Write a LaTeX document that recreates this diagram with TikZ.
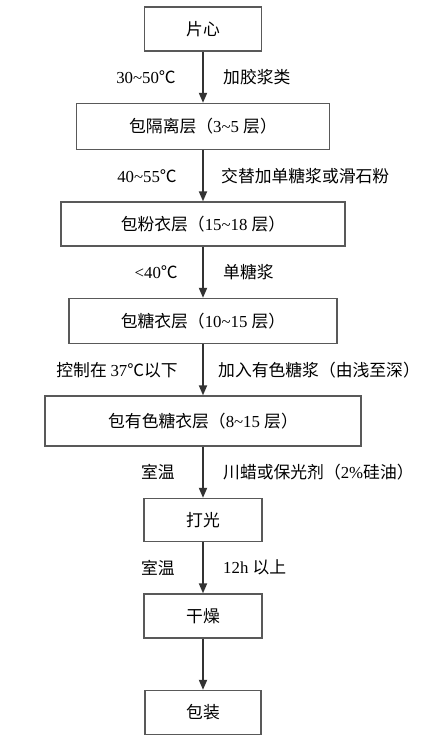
\documentclass[tikz,border=0pt]{standalone}
\usepackage{fontspec}
\setmainfont{Noto Sans CJK SC}
\newfontfamily\latin{Liberation Serif}
\usepackage{tikz}
\usetikzlibrary{positioning,arrows.meta}
\newcommand{\tnr}[1]{{\latin #1}}
\newcommand{\tl}{\textasciitilde}

\tikzset{
  stage/.style={draw=black!65, line width=1.3pt, minimum height=44pt, inner sep=0pt},
  flow/.style={draw=black!80, line width=1.8pt, -{Triangle[length=10pt,width=8pt]}},
}

\begin{document}
\begin{tikzpicture}[font=\fontsize{16.8pt}{20pt}\selectfont, node distance=51.2pt]
		\useasboundingbox (0pt,0pt) rectangle (443pt,-739pt);
		\node [stage, minimum width=117pt] (core) at (203pt,-29pt) {片心};
		\node [stage, minimum width=253pt, minimum height=46pt, below=of core] (iso) {包隔离层（\tnr{3\tl5 }层）};
		\node [stage, minimum width=284pt, below=of iso] (powder) {包粉衣层（\tnr{15\tl18 }层）};
		\node [stage, minimum width=268pt, minimum height=45pt, below=of powder] (sugar) {包糖衣层（\tnr{10\tl15 }层）};
		\node [stage, minimum width=316pt, minimum height=50pt, below=of sugar] (color) {包有色糖衣层（\tnr{8\tl15 }层）};
		\node [stage, minimum width=118pt, minimum height=43pt, below=of color] (polish) {打光};
		\node [stage, minimum width=118pt, below=of polish] (dry) {干燥};
		\node [stage, minimum width=116pt, below=of dry] (pack) {包装};
		\draw [flow] (core) -- node [left=23pt] {\tnr{30\tl50}℃} node [right=16pt] {加胶浆类} (iso);
		\draw [flow] (iso) -- node [left=22pt] {\tnr{40\tl55}℃} node [right=14pt] {交替加单糖浆或滑石粉} (powder);
		\draw [flow] (powder) -- node [left=21pt] {\tnr{<40}℃} node [right=16pt] {单糖浆} (sugar);
		\draw [flow] (sugar) -- node [left=21pt] {控制在 \tnr{37}℃以下} node [right=11pt] {加入有色糖浆（由浅至深）} (color);
		\draw [flow] (color) -- node [left=24pt] {室温} node [right=16pt] {川蜡或保光剂（\tnr{2\%}硅油）} (polish);
		\draw [flow] (polish) -- node [left=24pt] {室温} node [right=16pt] {\tnr{12h }以上} (dry);
		\draw [flow] (dry) -- (pack);
\end{tikzpicture}
\end{document}
